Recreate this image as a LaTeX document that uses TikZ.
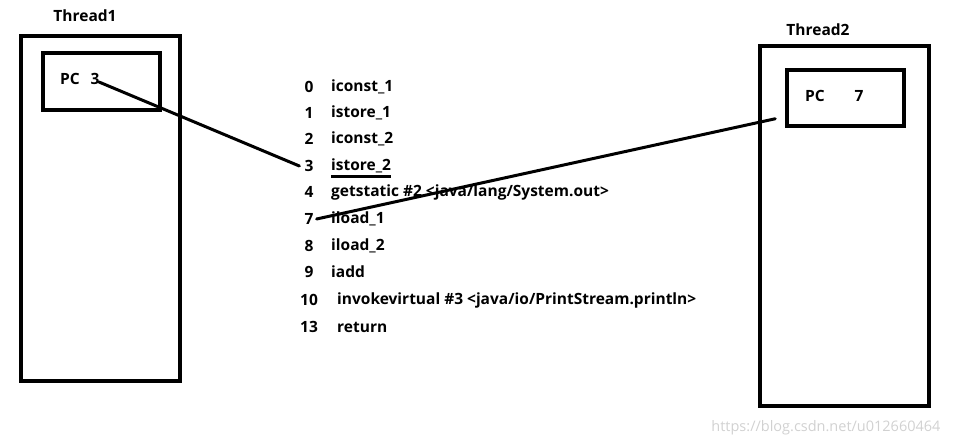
\documentclass[tikz,border=0pt]{standalone}
\usepackage{fontspec}
\setmainfont{Open Sans}
\begin{document}
\begin{tikzpicture}[x=1pt,y=-1pt,
    box/.style={draw,line width=3.5pt,inner sep=0pt},
    lbl/.style={font=\bfseries\fontsize{15.5}{17}\selectfont,inner sep=0pt},
    link/.style={line width=3pt,line cap=round}]
    \useasboundingbox (0,0) rectangle (954,445);
    % Thread1
    \node[box,minimum width=159,minimum height=345] (t1) at (100.5,208.5) {};
    \node[box,minimum width=117,minimum height=57] (p1) at (101.5,81.5) {};
    \node[lbl] (l1) at (85,16) {Thread1};
    \node[lbl] (pc1) at (70,79) {PC};
    \node[lbl] (v1) at (95,79) {3};
    % Thread2
    \node[box,minimum width=169,minimum height=360] (t2) at (844.5,226) {};
    \node[box,minimum width=117,minimum height=56] (p2) at (845.5,98) {};
    \node[lbl] (l2) at (818,30) {Thread2};
    \node[lbl] (pc2) at (815,96) {PC};
    \node[lbl] (v2) at (859,96) {7};
    % bytecode
    \foreach \n/\t/\y/\x in {0/{iconst\_1}/87/331, 1/{istore\_1}/113/331,
        2/{iconst\_2}/139/331, 3/{istore\_2}/166/331,
        4/{getstatic \#2 <java/lang/System.out>}/192/331,
        7/{iload\_1}/219/331, 8/{iload\_2}/246/331, 9/{iadd}/272/331,
        10/{invokevirtual \#3 <java/io/PrintStream.println>}/300/337,
        13/{return}/327/337}
    {
        \node[lbl] (n\n) at (309,\y) {\n};
        \node[lbl,anchor=west] (c\n) at (\x,\y) {\t};
    }
    \draw[line width=2.5pt] ([yshift=-3]c3.south west) -- ([yshift=-3]c3.south east);
    % program counters
    \draw[link] ([shift={(4,3)}]v1.center) -- ([xshift=-5]n3.west);
    \draw[link] ([xshift=3]n7.east) -- ([shift={(-10,-9)}]p2.south west);
    \node[font=\fontsize{14.5}{16}\selectfont,text=black!18,anchor=east] (wm) at (944,428) {https://blog.csdn.net/u012660464};
\end{tikzpicture}
\end{document}
